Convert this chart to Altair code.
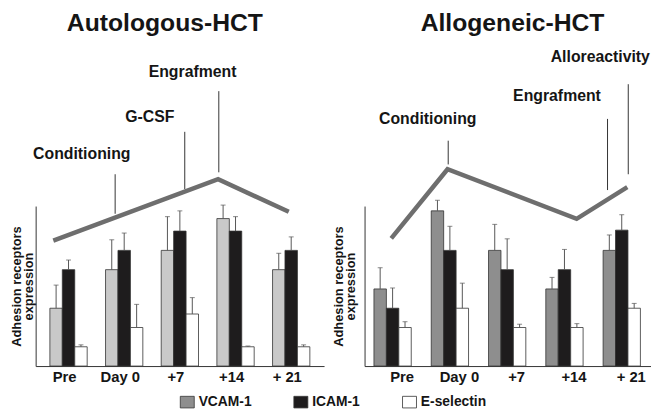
import altair as alt
import pandas as pd

# ---------------- data ----------------
timepoints = ["Pre", "Day 0", "+7", "+14", "+ 21"]
series = ["VCAM-1", "ICAM-1", "E-selectin"]

# Autologous-HCT (bar height, top of error bar)
auto_vcam = [3.0, 5.0, 6.0, 7.65, 5.0]
auto_vcam_err = [4.2, 6.55, 7.75, 8.35, 5.85]
auto_icam = [5.0, 6.0, 7.0, 7.0, 6.0]
auto_icam_err = [5.5, 6.9, 8.05, 7.75, 6.7]
auto_esel = [1.0, 2.0, 2.7, 1.0, 1.0]
auto_esel_err = [1.1, 3.2, 3.55, 1.04, 1.1]

# Allogeneic-HCT
allo_vcam = [4.0, 8.05, 6.0, 4.0, 6.0]
allo_vcam_err = [5.1, 8.6, 7.35, 4.6, 6.8]
allo_icam = [3.0, 6.0, 5.0, 5.0, 7.05]
allo_icam_err = [4.05, 7.25, 6.6, 6.05, 7.85]
allo_esel = [2.0, 3.0, 2.0, 2.0, 3.0]
allo_esel_err = [2.3, 4.3, 2.17, 2.2, 3.25]

# schematic trend lines (x in timepoint units 0..5, y in expression units)
auto_trend_x = [0.306, 3.163, 4.388]
auto_trend_y = [6.51, 9.69, 8.0]
allo_trend_x = [0.466, 1.448, 3.702, 4.586]
allo_trend_y = [6.62, 10.21, 7.64, 9.28]

# annotations
auto_labels = ["Conditioning", "G-CSF", "Engrafment"]
auto_line_x = [1.378, 2.585, 3.175]
auto_line_top = [9.95, 12.15, 14.26]
auto_line_bot = [7.90, 9.18, 10.05]
auto_text_x = [0.80, 1.98, 2.72]
auto_text_y = [10.72, 12.65, 14.98]

allo_labels = ["Conditioning", "Engrafment", "Alloreactivity"]
allo_line_x = [1.460, 4.241, 4.603]
allo_line_top = [11.69, 12.82, 14.62]
allo_line_bot = [10.46, 9.13, 9.95]
allo_text_x = [1.103, 3.359, 4.115]
allo_text_y = [12.55, 13.76, 15.78]

panel_titles = ["Autologous-HCT", "Allogeneic-HCT"]
title_x = [2.24, 2.583]
title_y = [17.38, 17.38]

FONT = "Liberation Sans"
Y_MAX = 8.3
color_keys = ["VCAM-1", "ICAM-1", "E-selectin", "VCAM-1 (auto)"]
color_range = ["#8e8e8e", "#1e1c1d", "#ffffff", "#c9c9c9"]


def bar_frame(vals, errs, light_vcam):
    rows = []
    for s_i, s in enumerate(series):
        for t_i, t in enumerate(timepoints):
            key = s
            if s == "VCAM-1" and light_vcam:
                key = "VCAM-1 (auto)"
            rows.append({"time": t, "series": s, "key": key,
                         "value": vals[s_i][t_i], "err": errs[s_i][t_i]})
    return pd.DataFrame(rows)


def panel(df, trend_x, trend_y, labels, lx, ltop, lbot, tx, ty, title, ttx, tty,
          width, p_in, p_out, label_off, title_pad):
    yscale = alt.Scale(domain=[0, Y_MAX], nice=False, zero=True)
    yaxis = alt.Axis(title=["Adhesion receptors", "expression"], labels=False,
                     ticks=False, grid=False, domainColor="#333333", domainWidth=1,
                     titleFontSize=13, titleFontWeight="bold", titleColor="#151515",
                     titlePadding=title_pad, titleLineHeight=12, titleFont=FONT)
    xq = alt.Scale(domain=[0, 5], nice=False, zero=False)
    xband = alt.X("time:N", sort=timepoints,
                  scale=alt.Scale(domain=timepoints, paddingInner=p_in, paddingOuter=p_out),
                  axis=alt.Axis(title=None, ticks=False, tickSize=0, labelAngle=0,
                                labelFontSize=15, labelFontWeight="bold", labelColor="#151515",
                                labelPadding=4, labelOffset=label_off, domainColor="#333333",
                                domainWidth=1, grid=False, labelFont=FONT))
    xoff = alt.XOffset("series:N", sort=series,
                       scale=alt.Scale(domain=series, paddingInner=0, paddingOuter=0))
    legend = alt.Legend(orient="none", legendX=146, legendY=191, direction="horizontal",
                        title=None, values=series, symbolType="M-1,-0.83H1V0.83H-1Z",
                        symbolSize=200, labelFontSize=14, labelFontWeight="bold",
                        labelFont=FONT, labelColor="#151515", labelOffset=4,
                        columnPadding=40, symbolStrokeColor="#333333",
                        symbolStrokeWidth=0.8, padding=0)
    bars = alt.Chart(df).mark_bar(stroke="#333333", strokeWidth=0.8).encode(
        x=xband, xOffset=xoff,
        y=alt.Y("value:Q", scale=yscale, axis=yaxis),
        fill=alt.Fill("key:N", scale=alt.Scale(domain=color_keys, range=color_range),
                      legend=legend),
    )
    err_rule = alt.Chart(df).mark_rule(color="#555555", strokeWidth=1).encode(
        x=xband, xOffset=xoff,
        y=alt.Y("value:Q", scale=yscale, axis=yaxis), y2="err:Q")
    err_cap = alt.Chart(df).mark_tick(color="#555555", thickness=1, size=5).encode(
        x=xband, xOffset=xoff, y=alt.Y("err:Q", scale=yscale, axis=yaxis))

    trend_df = pd.DataFrame({"x": trend_x, "y": trend_y, "i": list(range(len(trend_x)))})
    trend = alt.Chart(trend_df).mark_line(color="#6e6e6e", strokeWidth=4.5,
                                          strokeJoin="miter", strokeCap="butt").encode(
        x=alt.X("x:Q", scale=xq, axis=None),
        y=alt.Y("y:Q", scale=yscale, axis=yaxis),
        order="i:Q")
    anno_df = pd.DataFrame({"label": labels, "lx": lx, "ltop": ltop, "lbot": lbot,
                            "tx": tx, "ty": ty})
    anno_lines = alt.Chart(anno_df).mark_rule(color="#333333", strokeWidth=1).encode(
        x=alt.X("lx:Q", scale=xq, axis=None),
        y=alt.Y("ltop:Q", scale=yscale, axis=yaxis), y2="lbot:Q")
    anno_text = alt.Chart(anno_df).mark_text(font=FONT, fontSize=16, fontWeight="bold",
                                             align="center", baseline="alphabetic",
                                             color="#151515").encode(
        x=alt.X("tx:Q", scale=xq, axis=None),
        y=alt.Y("ty:Q", scale=yscale, axis=yaxis), text="label:N")
    title_df = pd.DataFrame({"t": [title], "x": [ttx], "y": [tty]})
    title_text = alt.Chart(title_df).mark_text(font=FONT, fontSize=25, fontWeight="bold",
                                               align="center", baseline="alphabetic",
                                               color="#151515").encode(
        x=alt.X("x:Q", scale=xq, axis=None),
        y=alt.Y("y:Q", scale=yscale, axis=yaxis), text="t:N")

    base = alt.layer(bars, err_rule, err_cap)
    over = alt.layer(trend, anno_lines, anno_text, title_text)
    return alt.layer(base, over).resolve_scale(x="independent").properties(
        width=width, height=162)


auto_df = bar_frame([auto_vcam, auto_icam, auto_esel],
                    [auto_vcam_err, auto_icam_err, auto_esel_err], True)
allo_df = bar_frame([allo_vcam, allo_icam, allo_esel],
                    [allo_vcam_err, allo_icam_err, allo_esel_err], False)

left = panel(auto_df, auto_trend_x, auto_trend_y, auto_labels, auto_line_x, auto_line_top,
             auto_line_bot, auto_text_x, auto_text_y, panel_titles[0], title_x[0], title_y[0],
             292, 0.33, 0.2555, -4, 0)
right = panel(allo_df, allo_trend_x, allo_trend_y, allo_labels, allo_line_x, allo_line_top,
              allo_line_bot, allo_text_x, allo_text_y, panel_titles[1], title_x[1], title_y[1],
              290, 0.3276, 0.1638, 9, 7)

chart = alt.hconcat(left, right, spacing=9).properties(
    padding={"left": 3, "top": 0, "right": 0, "bottom": 0}
).configure(font=FONT, view=alt.ViewConfig(strokeWidth=0))

chart.save("out.html", embed_options={"renderer": "svg", "actions": False})
